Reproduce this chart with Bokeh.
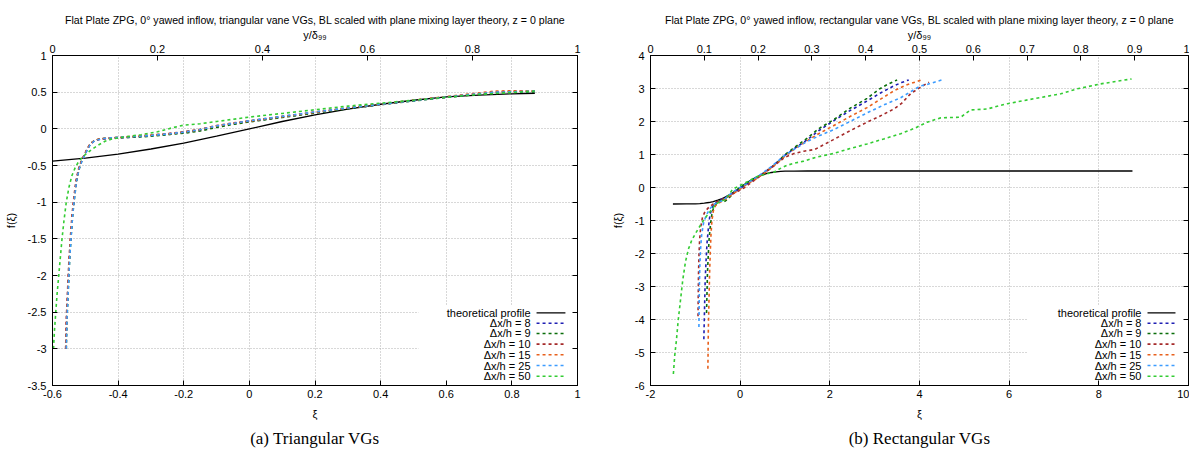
from bokeh.plotting import figure
from bokeh.models import Range1d, LinearAxis, FixedTicker, BoxAnnotation, Label, Arrow, Title
from bokeh.layouts import row
from bokeh.embed import file_html
from bokeh.resources import INLINE

# ---------------------------------------------------------------- texts
TITLE_A = "Flat Plate ZPG, 0° yawed inflow, triangular vane VGs, BL scaled with plane mixing layer theory, z = 0 plane"
TITLE_B = "Flat Plate ZPG, 0° yawed inflow, rectangular vane VGs, BL scaled with plane mixing layer theory, z = 0 plane"
CAPTION_A = "(a) Triangular VGs"
CAPTION_B = "(b) Rectangular VGs"
X_LABEL = "ξ"
Y_LABEL = "f(ξ)"
TOP_LABEL = "y/δ₉₉"
SERIES_NAMES = ["theoretical profile", "Δx/h = 8", "Δx/h = 9", "Δx/h = 10",
                "Δx/h = 15", "Δx/h = 25", "Δx/h = 50"]
SERIES_COLORS = ["#000000", "#1f1fb4", "#0a6e0a", "#a52a2a", "#e8601c", "#3c9cff", "#33cc33"]

# ---------------------------------------------------------------- ticks (a)
a_x_ticks = [-0.6, -0.4, -0.2, 0, 0.2, 0.4, 0.6, 0.8, 1]
a_x_labels = ["-0.6", "-0.4", "-0.2", "0", "0.2", "0.4", "0.6", "0.8", "1"]
a_y_ticks = [-3.5, -3, -2.5, -2, -1.5, -1, -0.5, 0, 0.5, 1]
a_y_labels = ["-3.5", "-3", "-2.5", "-2", "-1.5", "-1", "-0.5", "0", "0.5", "1"]
a_top_ticks = [0, 0.2, 0.4, 0.6, 0.8, 1]
a_top_labels = ["0", "0.2", "0.4", "0.6", "0.8", "1"]

# ---------------------------------------------------------------- ticks (b)
b_x_ticks = [-2, 0, 2, 4, 6, 8, 10]
b_x_labels = ["-2", "0", "2", "4", "6", "8", "10"]
b_y_ticks = [-6, -5, -4, -3, -2, -1, 0, 1, 2, 3, 4]
b_y_labels = ["-6", "-5", "-4", "-3", "-2", "-1", "0", "1", "2", "3", "4"]
b_top_ticks = [0, 0.1, 0.2, 0.3, 0.4, 0.5, 0.6, 0.7, 0.8, 0.9, 1]
b_top_labels = ["0", "0.1", "0.2", "0.3", "0.4", "0.5", "0.6", "0.7", "0.8", "0.9", "1"]

# ---------------------------------------------------------------- data (a) triangular
a_theory_xi = [-0.6, -0.5, -0.4, -0.3, -0.2, -0.1, 0.0, 0.1, 0.2, 0.3, 0.4, 0.5, 0.6, 0.7, 0.8, 0.87]
a_theory_f = [-0.44, -0.40, -0.345, -0.275, -0.195, -0.10, 0.0, 0.10, 0.19, 0.27, 0.335, 0.39, 0.435, 0.46, 0.478, 0.485]

a_dx8_xi = [-0.559, -0.557, -0.553, -0.549, -0.544, -0.539, -0.533, -0.527, -0.520, -0.512, -0.503, -0.494,
            -0.485, -0.472, -0.455, -0.430, -0.400, -0.350, -0.300, -0.250, -0.200, -0.150, -0.100, -0.050,
            0.000, 0.050, 0.100, 0.200, 0.300, 0.400, 0.500, 0.600, 0.700, 0.750, 0.800, 0.870]
a_dx8_f = [-3.00, -2.60, -2.20, -1.80, -1.45, -1.15, -0.90, -0.70, -0.55, -0.45, -0.36, -0.28, -0.21, -0.16,
           -0.14, -0.13, -0.125, -0.11, -0.095, -0.075, -0.05, -0.015, 0.035, 0.07, 0.10, 0.13, 0.16, 0.22,
           0.28, 0.33, 0.385, 0.43, 0.475, 0.495, 0.505, 0.51]

a_dx9_xi = [-0.558, -0.556, -0.552, -0.548, -0.543, -0.538, -0.532, -0.526, -0.519, -0.511, -0.502, -0.493,
            -0.484, -0.471, -0.454, -0.430, -0.400, -0.350, -0.300, -0.250, -0.200, -0.150, -0.100, -0.050,
            0.000, 0.050, 0.100, 0.200, 0.300, 0.400, 0.500, 0.600, 0.700, 0.750, 0.800, 0.870]
a_dx9_f = [-3.00, -2.60, -2.20, -1.80, -1.45, -1.15, -0.90, -0.70, -0.55, -0.44, -0.35, -0.27, -0.20, -0.155,
           -0.135, -0.125, -0.12, -0.115, -0.10, -0.08, -0.06, -0.03, 0.02, 0.06, 0.095, 0.125, 0.155, 0.215,
           0.275, 0.33, 0.38, 0.43, 0.47, 0.49, 0.50, 0.505]

a_dx10_xi = [-0.560, -0.558, -0.554, -0.550, -0.545, -0.540, -0.534, -0.528, -0.521, -0.513, -0.504, -0.495,
             -0.486, -0.473, -0.456, -0.430, -0.400, -0.350, -0.300, -0.250, -0.200, -0.150, -0.100, -0.050,
             0.000, 0.050, 0.100, 0.200, 0.300, 0.400, 0.500, 0.600, 0.700, 0.750, 0.800, 0.870]
a_dx10_f = [-3.00, -2.60, -2.20, -1.80, -1.45, -1.15, -0.90, -0.70, -0.55, -0.45, -0.36, -0.28, -0.21, -0.165,
            -0.14, -0.13, -0.12, -0.105, -0.085, -0.065, -0.04, -0.005, 0.045, 0.08, 0.11, 0.14, 0.17, 0.23,
            0.285, 0.335, 0.39, 0.435, 0.48, 0.50, 0.51, 0.515]

a_dx15_xi = [-0.559, -0.557, -0.553, -0.549, -0.544, -0.539, -0.533, -0.527, -0.520, -0.512, -0.503, -0.494,
             -0.485, -0.472, -0.455, -0.430, -0.400, -0.350, -0.300, -0.250, -0.200, -0.150, -0.100, -0.050,
             0.000, 0.050, 0.100, 0.200, 0.300, 0.400, 0.500, 0.600, 0.700, 0.750, 0.800, 0.870]
a_dx15_f = [-3.00, -2.60, -2.20, -1.80, -1.45, -1.15, -0.90, -0.70, -0.55, -0.45, -0.355, -0.275, -0.205, -0.16,
            -0.135, -0.125, -0.115, -0.10, -0.085, -0.07, -0.045, -0.01, 0.04, 0.075, 0.105, 0.135, 0.165, 0.225,
            0.285, 0.335, 0.39, 0.44, 0.49, 0.515, 0.52, 0.52]

a_dx25_xi = [-0.558, -0.556, -0.552, -0.548, -0.543, -0.538, -0.532, -0.526, -0.519, -0.511, -0.502, -0.493,
             -0.484, -0.471, -0.454, -0.430, -0.400, -0.350, -0.300, -0.250, -0.200, -0.150, -0.100, -0.050,
             0.000, 0.050, 0.100, 0.200, 0.300, 0.400, 0.500, 0.600, 0.700, 0.750, 0.800, 0.870]
a_dx25_f = [-3.00, -2.60, -2.20, -1.80, -1.45, -1.15, -0.90, -0.70, -0.55, -0.45, -0.36, -0.28, -0.21, -0.16,
            -0.14, -0.125, -0.115, -0.105, -0.09, -0.07, -0.045, -0.01, 0.04, 0.075, 0.11, 0.14, 0.17, 0.23,
            0.285, 0.335, 0.385, 0.435, 0.48, 0.50, 0.505, 0.515]

a_dx50_xi = [-0.597, -0.594, -0.590, -0.586, -0.581, -0.576, -0.571, -0.565, -0.558, -0.550, -0.541, -0.530,
             -0.518, -0.500, -0.480, -0.460, -0.440, -0.420, -0.380, -0.330, -0.280, -0.230, -0.200, -0.150,
             -0.100, -0.050, 0.000, 0.100, 0.200, 0.300, 0.400, 0.500, 0.600, 0.700, 0.800, 0.870]
a_dx50_f = [-3.00, -2.75, -2.50, -2.25, -2.00, -1.75, -1.50, -1.25, -1.00, -0.80, -0.64, -0.52, -0.43, -0.35,
            -0.28, -0.22, -0.17, -0.14, -0.11, -0.08, -0.04, 0.02, 0.05, 0.07, 0.10, 0.13, 0.16, 0.21, 0.26,
            0.31, 0.35, 0.39, 0.43, 0.47, 0.495, 0.515]

# ---------------------------------------------------------------- data (b) rectangular
b_theory_xi = [-1.5, -1.2, -1.0, -0.9, -0.8, -0.7, -0.6, -0.5, -0.4, -0.3, -0.2, -0.1, 0.0, 0.1, 0.2, 0.3,
               0.4, 0.5, 0.6, 0.7, 0.8, 0.9, 1.0, 1.2, 1.5, 3.0, 5.0, 7.0, 8.75]
b_theory_f = [-0.5, -0.499, -0.494, -0.487, -0.475, -0.455, -0.425, -0.385, -0.335, -0.27, -0.19, -0.10, 0.0,
              0.10, 0.19, 0.27, 0.335, 0.385, 0.425, 0.455, 0.475, 0.487, 0.494, 0.499, 0.5, 0.5, 0.5, 0.5, 0.5]

b_dx8_xi = [-0.81, -0.80, -0.79, -0.78, -0.76, -0.74, -0.71, -0.68, -0.64, -0.58, -0.50, -0.40, -0.30, -0.20,
            -0.10, 0.00, 0.10, 0.20, 0.30, 0.40, 0.50, 0.70, 1.00, 1.25, 1.50, 1.75, 2.08, 2.45, 2.83, 3.15,
            3.43, 3.60, 3.76]
b_dx8_f = [-4.60, -4.00, -3.40, -2.80, -2.20, -1.70, -1.25, -0.90, -0.65, -0.50, -0.42, -0.35, -0.27, -0.20,
           -0.12, -0.03, 0.06, 0.15, 0.24, 0.32, 0.42, 0.62, 0.98, 1.22, 1.45, 1.72, 2.02, 2.33, 2.62, 2.88,
           3.08, 3.18, 3.26]

b_dx9_xi = [-0.75, -0.74, -0.73, -0.71, -0.69, -0.66, -0.63, -0.59, -0.52, -0.45, -0.36, -0.28, -0.20, -0.10,
            0.00, 0.20, 0.40, 0.60, 0.80, 1.00, 1.25, 1.50, 1.75, 2.08, 2.45, 2.83, 3.10, 3.28, 3.50]
b_dx9_f = [-3.80, -3.20, -2.60, -2.00, -1.50, -1.10, -0.80, -0.60, -0.47, -0.40, -0.44, -0.36, -0.25, -0.10,
           0.00, 0.18, 0.32, 0.50, 0.72, 1.00, 1.25, 1.50, 1.78, 2.05, 2.40, 2.70, 2.98, 3.12, 3.26]

b_dx10_xi = [-0.94, -0.935, -0.93, -0.92, -0.905, -0.88, -0.84, -0.78, -0.70, -0.60, -0.50, -0.40, -0.30,
             -0.20, -0.10, 0.00, 0.10, 0.20, 0.30, 0.40, 0.50, 0.70, 1.00, 1.20, 1.42, 1.66, 2.08, 2.45, 2.83,
             3.10, 3.43, 3.60, 3.80, 4.00, 4.21]
b_dx10_f = [-3.90, -3.30, -2.70, -2.10, -1.60, -1.20, -0.90, -0.72, -0.60, -0.50, -0.42, -0.36, -0.30, -0.22,
            -0.15, -0.08, 0.00, 0.10, 0.20, 0.30, 0.40, 0.60, 0.92, 1.03, 1.10, 1.15, 1.45, 1.72, 1.98, 2.15,
            2.38, 2.55, 2.84, 3.02, 3.19]

b_dx15_xi = [-0.72, -0.715, -0.71, -0.70, -0.69, -0.68, -0.665, -0.65, -0.63, -0.60, -0.55, -0.45, -0.35,
             -0.25, -0.15, 0.00, 0.10, 0.20, 0.30, 0.40, 0.50, 0.70, 1.00, 1.25, 1.50, 1.75, 2.08, 2.45, 2.83,
             3.10, 3.43, 3.70, 4.04]
b_dx15_f = [-5.49, -4.90, -4.30, -3.70, -3.10, -2.50, -1.90, -1.40, -1.00, -0.72, -0.55, -0.45, -0.38, -0.28,
            -0.18, -0.05, 0.05, 0.14, 0.22, 0.30, 0.40, 0.60, 0.95, 1.20, 1.42, 1.63, 1.87, 2.15, 2.42, 2.65,
            2.93, 3.10, 3.26]

b_dx25_xi = [-0.92, -0.915, -0.91, -0.90, -0.885, -0.86, -0.82, -0.76, -0.68, -0.60, -0.50, -0.40, -0.30,
             -0.20, -0.10, 0.00, 0.10, 0.20, 0.30, 0.40, 0.50, 0.70, 1.00, 1.25, 1.50, 1.75, 2.08, 2.45, 2.83,
             3.20, 3.58, 3.80, 4.02, 4.17, 4.35, 4.50]
b_dx25_f = [-4.23, -3.60, -3.00, -2.40, -1.90, -1.45, -1.10, -0.85, -0.65, -0.52, -0.45, -0.40, -0.30, -0.18,
            -0.08, 0.00, 0.08, 0.17, 0.26, 0.34, 0.44, 0.64, 0.98, 1.20, 1.40, 1.56, 1.75, 2.00, 2.26, 2.50,
            2.72, 2.90, 3.08, 3.12, 3.20, 3.26]

b_dx50_xi = [-1.49, -1.46, -1.42, -1.38, -1.33, -1.28, -1.22, -1.15, -1.08, -1.00, -0.92, -0.83, -0.74, -0.65,
             -0.55, -0.45, -0.36, -0.27, -0.17, -0.05, 0.05, 0.20, 0.35, 0.55, 0.76, 0.90, 1.06, 1.25, 1.42,
             1.70, 2.08, 2.45, 2.83, 3.20, 3.58, 3.90, 4.17, 4.47, 4.92, 5.14, 5.51, 5.96, 6.55, 7.15, 7.52,
             8.04, 8.73]
b_dx50_f = [-5.65, -5.10, -4.60, -4.00, -3.40, -2.80, -2.25, -1.85, -1.60, -1.40, -1.22, -1.02, -0.85, -0.70,
            -0.52, -0.42, -0.38, -0.25, -0.06, 0.03, 0.10, 0.20, 0.32, 0.40, 0.47, 0.58, 0.68, 0.75, 0.80,
            0.92, 1.03, 1.18, 1.32, 1.47, 1.63, 1.80, 1.98, 2.11, 2.13, 2.35, 2.38, 2.54, 2.69, 2.84, 2.99,
            3.14, 3.29]

# ---------------------------------------------------------------- styling
FONT = "Liberation Sans"
SERIF = "Liberation Serif"
FS = "11px"
FIG_H = 452


def frac(r, t):
    return r[0] + t * (r[1] - r[0])


def style_axis(ax, ticks, labels, text):
    ax.ticker = FixedTicker(ticks=ticks)
    ax.major_label_overrides = dict(zip(ticks, labels))
    ax.axis_label = text
    ax.axis_label_text_font = FONT
    ax.axis_label_text_font_size = FS
    ax.axis_label_text_font_style = "normal"
    ax.axis_label_text_color = "black"
    ax.major_label_text_font = FONT
    ax.major_label_text_font_size = FS
    ax.major_label_text_color = "black"
    ax.major_tick_in = 5
    ax.major_tick_out = 0
    ax.minor_tick_line_color = None
    ax.axis_line_color = "black"
    ax.major_tick_line_color = "black"


def build(title, caption, xr, yr, xt, xl, yt, yl, tt, tl, theory, curves, leg, width, bl, br):
    p = figure(width=width, height=FIG_H, x_range=Range1d(*xr), y_range=Range1d(*yr),
               output_backend="svg", toolbar_location=None,
               min_border_left=bl, min_border_right=br, min_border_top=55, min_border_bottom=67)
    p.extra_x_ranges = {"top": Range1d(0, 1)}
    p.outline_line_color = "black"
    p.outline_line_width = 1
    p.background_fill_color = "white"
    p.border_fill_color = "white"

    p.title.text = title
    p.title.align = "center"
    p.title.text_font = FONT
    p.title.text_font_size = "10.6px"
    p.title.text_font_style = "normal"
    p.title.text_color = "black"
    p.title.standoff = 0

    bottom = p.below[0]
    left = p.left[0]
    style_axis(bottom, xt, xl, X_LABEL)
    bottom.major_label_standoff = 4
    bottom.axis_label_standoff = 7
    style_axis(left, yt, yl, Y_LABEL)
    left.major_label_standoff = 6
    left.axis_label_standoff = 8

    top = LinearAxis(x_range_name="top")
    style_axis(top, tt, tl, TOP_LABEL)
    top.major_label_standoff = 3
    top.axis_label_standoff = 1
    p.add_layout(top, "above")

    # mirrored y ticks on the right border (no labels), as gnuplot draws them
    right = LinearAxis()
    style_axis(right, yt, ["" for _ in yt], None)
    right.major_label_standoff = 0
    p.add_layout(right, "right")

    for g in (p.xgrid[0], p.ygrid[0]):
        g.grid_line_color = "#b0b0b0"
        g.grid_line_dash = "1 2"
        g.grid_line_width = 1
    p.xgrid[0].ticker = bottom.ticker
    p.ygrid[0].ticker = left.ticker

    # legend background (hides the grid like gnuplot's key box)
    box = BoxAnnotation(left=frac(xr, leg["box_left"]), right=xr[1], bottom=yr[0],
                        top=frac(yr, leg["box_top"]), fill_color="white", fill_alpha=1.0,
                        line_color=None, level="underlay")
    p.add_layout(box)

    p.line(theory[0], theory[1], line_color=SERIES_COLORS[0], line_width=1.3)
    for (xs, ys), col in zip(curves, SERIES_COLORS[1:]):
        p.line(xs, ys, line_color=col, line_width=1.6, line_dash="3 3")

    # gnuplot style key: right aligned text, sample to the right
    for i, (name, col) in enumerate(zip(SERIES_NAMES, SERIES_COLORS)):
        yy = frac(yr, leg["rows"][i])
        p.add_layout(Label(x=frac(xr, leg["text_x"]), y=yy, text=name, text_align="right",
                           text_baseline="middle", text_font=FONT, text_font_size=FS,
                           text_color="black"))
        p.add_layout(Arrow(end=None, x_start=frac(xr, leg["s0"]), x_end=frac(xr, leg["s1"]),
                           y_start=yy, y_end=yy, line_color=col,
                           line_width=1.3 if i == 0 else 1.6,
                           line_dash="solid" if i == 0 else "3 3"))

    cap = Title(text=caption, align="center", text_font=SERIF, text_font_size="17px",
                text_font_style="normal", text_color="black", standoff=8)
    p.add_layout(cap, "below")
    return p


ROWS = [0.2203, 0.1888, 0.1576, 0.1255, 0.093, 0.0606, 0.0282]

pa = build(TITLE_A, CAPTION_A, (-0.6, 1.0), (-3.5, 1.0),
           a_x_ticks, a_x_labels, a_y_ticks, a_y_labels, a_top_ticks, a_top_labels,
           (a_theory_xi, a_theory_f),
           [(a_dx8_xi, a_dx8_f), (a_dx9_xi, a_dx9_f), (a_dx10_xi, a_dx10_f),
            (a_dx15_xi, a_dx15_f), (a_dx25_xi, a_dx25_f), (a_dx50_xi, a_dx50_f)],
           dict(box_left=0.697, box_top=0.2424, text_x=0.9105, s0=0.922, s1=0.977, rows=ROWS),
           width=600, bl=52, br=23)

pb = build(TITLE_B, CAPTION_B, (-2.0, 10.0), (-6.0, 4.0),
           b_x_ticks, b_x_labels, b_y_ticks, b_y_labels, b_top_ticks, b_top_labels,
           (b_theory_xi, b_theory_f),
           [(b_dx8_xi, b_dx8_f), (b_dx9_xi, b_dx9_f), (b_dx10_xi, b_dx10_f),
            (b_dx15_xi, b_dx15_f), (b_dx25_xi, b_dx25_f), (b_dx50_xi, b_dx50_f)],
           dict(box_left=0.7007, box_top=0.2424, text_x=0.9126, s0=0.9238, s1=0.9758, rows=ROWS),
           width=589, bl=50, br=1)

layout = row(pa, pb)
open("out.html", "w").write(file_html(layout, INLINE))
